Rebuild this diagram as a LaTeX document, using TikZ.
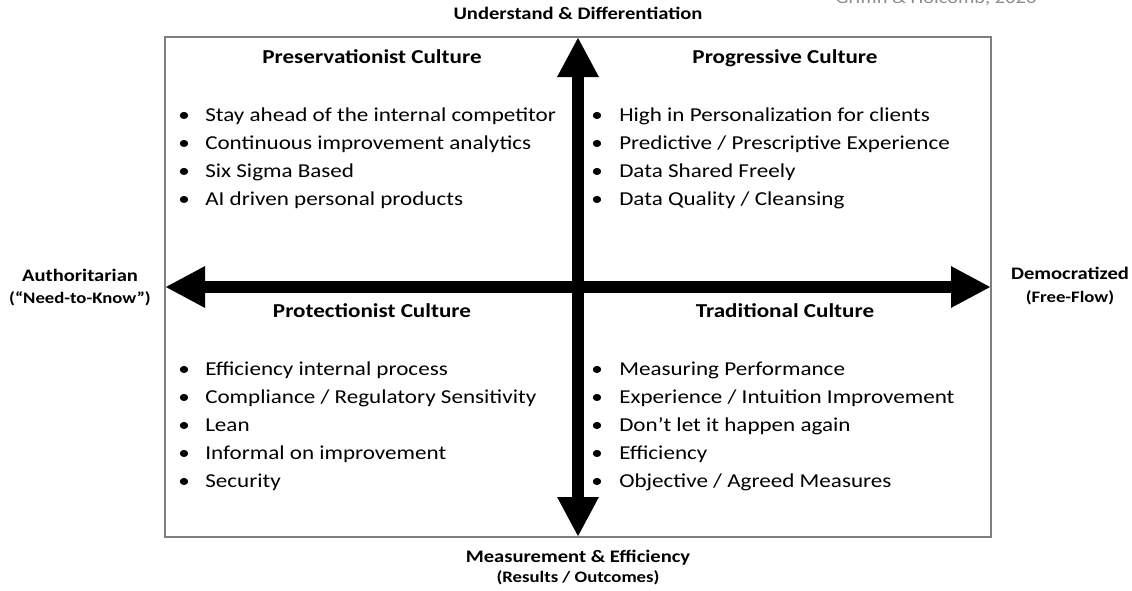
\documentclass[tikz,border=0pt]{standalone}
\usepackage{fontspec}
\setmainfont{Carlito}[FakeStretch=1.17]
\usetikzlibrary{arrows.meta,positioning}
\definecolor{framecol}{HTML}{7F7F7F}
\definecolor{citecol}{HTML}{8C8C8C}

\begin{document}
\begin{tikzpicture}[x=0.75pt,y=-0.75pt,
  axis/.style={line width=9pt,{Triangle[length=30pt,width=29pt]}-{Triangle[length=30pt,width=29pt]}},
  title/.style={font=\bfseries\fontsize{14.8}{18}\selectfont,anchor=base,inner sep=0pt},
  item/.style={font=\fontsize{14.8}{18}\selectfont,anchor=base west,inner sep=0pt},
  axlabel/.style={font=\bfseries\fontsize{13.2}{15}\selectfont,anchor=base,inner sep=0pt},
  sublabel/.style={font=\bfseries\fontsize{12}{13}\selectfont,anchor=base,inner sep=0pt}]
\useasboundingbox (0,0) rectangle (1132,590);
% outer frame of the four quadrants
\node[draw=framecol, line width=1.1pt, minimum width=619.5pt, minimum height=375pt,
  inner sep=0pt, outer sep=0pt] (frame) at (578,287) {};
% the two axes
\draw[axis] (frame.west) -- (frame.east);
\draw[axis] (frame.north) -- (frame.south);
% axis labels
\node[axlabel] (top) at (578,19) {Understand \& Differentiation};
\node[axlabel] (bot) at (578,562) {Measurement \& Efficiency};
\node[sublabel] (botsub) at (578,582) {(Results / Outcomes)};
\node[axlabel] (left) at (80,281) {Authoritarian};
\node[sublabel] (leftsub) at (80,303) {(“Need-to-Know”)};
\node[axlabel] (right) at (1070,279) {Democratized};
\node[sublabel] (rightsub) at (1070,302) {(Free-Flow)};
\node[font=\fontsize{13.1}{16}\selectfont, text=citecol, anchor=base, inner sep=0pt] (cite) at (936,3) {Griffin \& Holcomb, 2023};
% quadrant titles
\node[title] (pv) at (372,63) {Preservationist Culture};
\node[title] (pg) at (785,63) {Progressive Culture};
\node[title] (pt) at (372,317) {Protectionist Culture};
\node[title] (tr) at (785,317) {Traditional Culture};
% quadrant lists
\foreach \t [count=\k] in {Stay ahead of the internal competitor,Continuous improvement analytics,Six Sigma Based,AI driven personal products}{
  \node[item] (pvb\k) at (178,{121+28*(\k-1)}) {•};
  \node[item] (pv\k) at (205,{121+28*(\k-1)}) {\t};
}
\foreach \t [count=\k] in {High in Personalization for clients,Predictive / Prescriptive Experience,Data Shared Freely,Data Quality / Cleansing}{
  \node[item] (pgb\k) at (591,{121+28*(\k-1)}) {•};
  \node[item] (pg\k) at (619,{121+28*(\k-1)}) {\t};
}
\foreach \t [count=\k] in {Efficiency internal process,Compliance / Regulatory Sensitivity,Lean,Informal on improvement,Security}{
  \node[item] (ptb\k) at (178,{375+28*(\k-1)}) {•};
  \node[item] (pt\k) at (205,{375+28*(\k-1)}) {\t};
}
\foreach \t [count=\k] in {Measuring Performance,Experience / Intuition Improvement,Don’t let it happen again,Efficiency,Objective / Agreed Measures}{
  \node[item] (trb\k) at (591,{375+28*(\k-1)}) {•};
  \node[item] (tr\k) at (619,{375+28*(\k-1)}) {\t};
}
\end{tikzpicture}
\end{document}
